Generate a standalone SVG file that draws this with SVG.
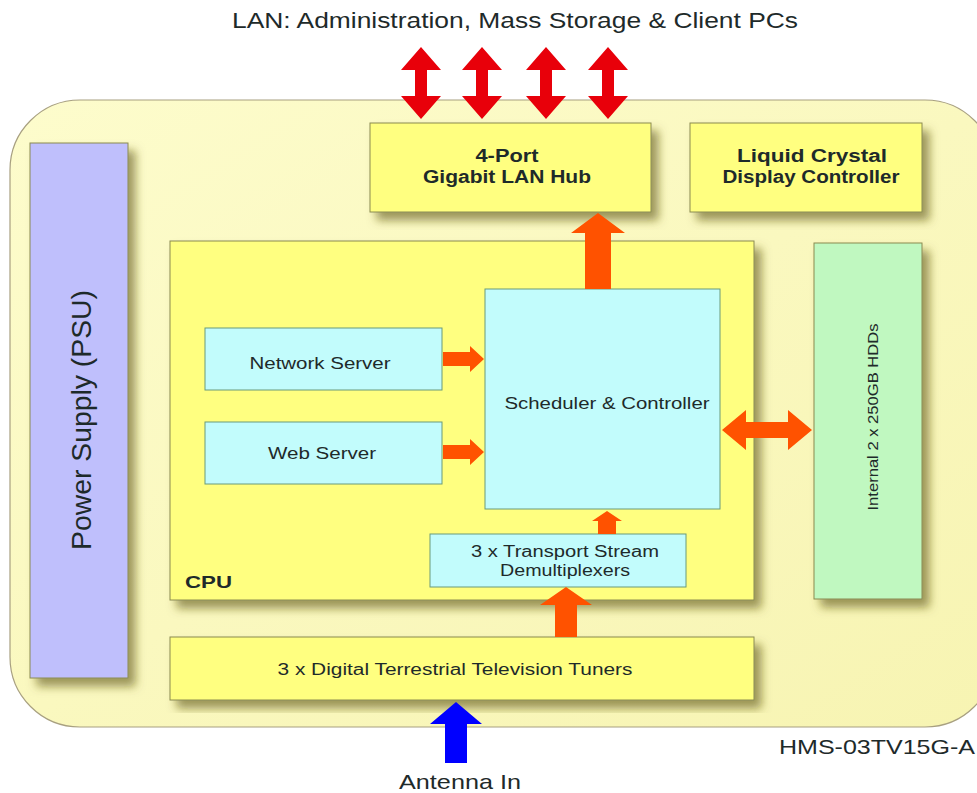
<svg xmlns="http://www.w3.org/2000/svg" width="977" height="793" viewBox="0 0 977 793">
<defs>
<filter id="sh" x="-10%" y="-10%" width="130%" height="130%">
<feDropShadow dx="7" dy="8" stdDeviation="5" flood-color="#5e5418" flood-opacity="0.6"/>
</filter>
<linearGradient id="bg" x1="0" y1="0" x2="1" y2="1">
<stop offset="0" stop-color="#fdfccc"/>
<stop offset="1" stop-color="#f7f4b2"/>
</linearGradient>
</defs>
<style>
.box{stroke:#8a8a50;stroke-width:1;filter:url(#sh)}
.y{fill:#ffff80}
.c{fill:#c2fcfc;stroke:#6a9a7a;stroke-width:1}
.t{font-family:"Liberation Sans",Arial,sans-serif;fill:#1e2a2a;text-anchor:middle}
.b{font-weight:bold}
.red{fill:#e8000a}
.or{fill:#ff5200}
.bl{fill:#0000ff}
</style>
<rect x="10" y="100" width="985" height="627" rx="70" fill="url(#bg)" stroke="#a8a080" stroke-width="1.2"/>
<text class="t" x="515" y="28" font-size="22" textLength="566" lengthAdjust="spacingAndGlyphs">LAN: Administration, Mass Storage &amp; Client PCs</text>
<text class="t" x="460" y="789" font-size="21" textLength="122" lengthAdjust="spacingAndGlyphs">Antenna In</text>
<text class="t" x="877" y="754" font-size="21" textLength="196" lengthAdjust="spacingAndGlyphs">HMS-03TV15G-A</text>

<g id="psu">
<rect class="box" x="30" y="143" width="98" height="535" fill="#bfbffc" stroke="#6a6a9a"/>
<text class="t" font-size="28" textLength="260" lengthAdjust="spacingAndGlyphs" transform="translate(91,420) rotate(-90)">Power Supply (PSU)</text>
</g>
<g id="lanhub">
<rect class="box y" x="370" y="123" width="281" height="89"/>
<text class="t b" x="507" y="162" font-size="18" textLength="63" lengthAdjust="spacingAndGlyphs">4-Port</text>
<text class="t b" x="507" y="183" font-size="18" textLength="168" lengthAdjust="spacingAndGlyphs">Gigabit LAN Hub</text>
</g>
<g id="lcd">
<rect class="box y" x="690" y="123" width="232" height="89"/>
<text class="t b" x="812" y="162" font-size="18" textLength="150" lengthAdjust="spacingAndGlyphs">Liquid Crystal</text>
<text class="t b" x="811" y="183" font-size="18" textLength="177" lengthAdjust="spacingAndGlyphs">Display Controller</text>
</g>
<g id="cpu">
<rect class="box y" x="170" y="241" width="584" height="359"/>
<text class="t b" x="185" y="588" font-size="17" text-anchor="start" style="text-anchor:start" textLength="47" lengthAdjust="spacingAndGlyphs">CPU</text>
</g>
<g id="scheduler">
<rect class="c" x="485" y="289" width="235" height="220"/>
<text class="t" x="607" y="409" font-size="16" textLength="205" lengthAdjust="spacingAndGlyphs">Scheduler &amp; Controller</text>
</g>
<g id="network-server">
<rect class="c" x="205" y="328" width="237" height="62"/>
<text class="t" x="320" y="369" font-size="16" textLength="141" lengthAdjust="spacingAndGlyphs">Network Server</text>
</g>
<g id="web-server">
<rect class="c" x="205" y="422" width="237" height="62"/>
<text class="t" x="322" y="459" font-size="16" textLength="108" lengthAdjust="spacingAndGlyphs">Web Server</text>
</g>
<g id="demux">
<rect class="c" x="430" y="534" width="256" height="53"/>
<text class="t" x="565" y="557" font-size="16" textLength="188" lengthAdjust="spacingAndGlyphs">3 x Transport Stream</text>
<text class="t" x="565" y="576" font-size="16" textLength="130" lengthAdjust="spacingAndGlyphs">Demultiplexers</text>
</g>
<g id="hdd">
<rect class="box" x="814" y="243" width="108" height="356" fill="#c0f8c0" stroke="#6a9a6a"/>
<text class="t" font-size="15" textLength="187" lengthAdjust="spacingAndGlyphs" transform="translate(878,417) rotate(-90)">Internal 2 x 250GB HDDs</text>
</g>
<g id="tuners">
<rect class="box y" x="170" y="637" width="584" height="63"/>
<text class="t" x="455" y="675" font-size="16" textLength="355" lengthAdjust="spacingAndGlyphs">3 x Digital Terrestrial Television Tuners</text>
</g>

<g id="connectors">
<polygon class="red" points="421,47 441,70 427,70 427,96 441,96 421,119 401,96 415,96 415,70 401,70"/>
<polygon class="red" points="482,47 502,70 488,70 488,96 502,96 482,119 462,96 476,96 476,70 462,70"/>
<polygon class="red" points="546,47 566,70 552,70 552,96 566,96 546,119 526,96 540,96 540,70 526,70"/>
<polygon class="red" points="608,47 628,70 614,70 614,96 628,96 608,119 588,96 602,96 602,70 588,70"/>
<polygon class="or" points="598,213 625,233 611,233 611,289 585,289 585,233 571,233"/>
<polygon class="or" points="443,352 470,352 470,346 484,359 470,372 470,366 443,366"/>
<polygon class="or" points="443,445 470,445 470,439 484,452 470,465 470,459 443,459"/>
<polygon class="or" points="722,430 746,410 746,422 788,422 788,410 812,430 788,450 788,438 746,438 746,450"/>
<polygon class="or" points="607,511 622,521 616,521 616,534 598,534 598,521 592,521"/>
<polygon class="or" points="566,587 592,605 577,605 577,637 555,637 555,605 540,605"/>
<polygon class="bl" points="456,702 482,724 467,724 467,763 445,763 445,724 430,724"/>
</g>
</svg>
